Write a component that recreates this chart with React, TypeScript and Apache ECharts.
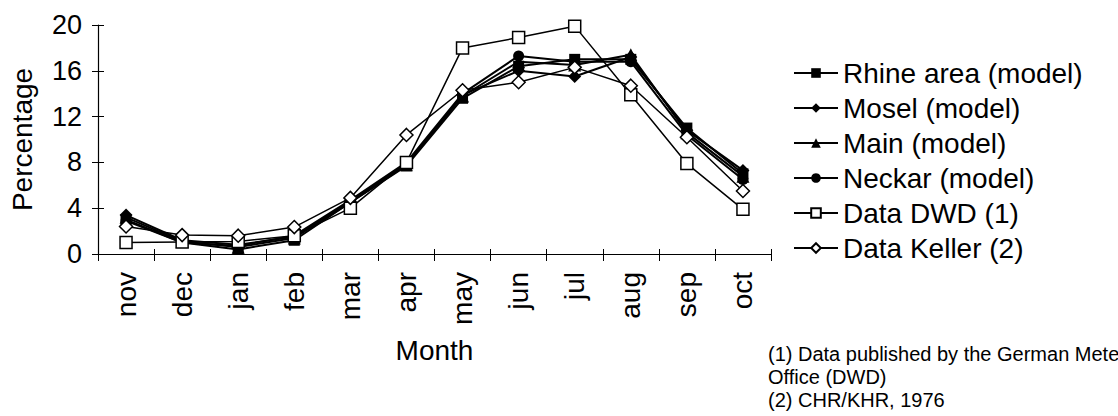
import React, { useEffect, useRef } from "react";
import * as echarts from "echarts";

const months = ["nov", "dec", "jan", "feb", "mar", "apr", "may", "jun", "jul", "aug", "sep", "oct"];
const yTicks = [0, 4, 8, 12, 16, 20];

const rhine = [3.0, 1.0, 0.4, 1.2, 4.5, 7.7, 13.6, 16.4, 17.0, 17.0, 11.0, 7.0];
const mosel = [3.4, 1.2, 0.8, 1.5, 4.6, 7.9, 13.9, 16.0, 15.5, 17.2, 10.8, 7.3];
const mainR = [3.2, 1.1, 0.6, 1.4, 4.5, 7.8, 13.8, 16.8, 16.5, 17.4, 10.6, 6.8];
const neckar = [2.9, 1.0, 0.7, 1.6, 4.7, 8.0, 14.0, 17.3, 16.8, 16.8, 10.4, 6.5];
const dwd = [1.0, 1.05, 1.1, 1.6, 4.0, 8.0, 18.0, 18.9, 19.9, 13.9, 7.9, 3.9];
const keller = [2.4, 1.65, 1.6, 2.35, 4.9, 10.4, 14.3, 15.0, 16.3, 14.7, 10.2, 5.5];

const seriesNames = [
  "Rhine area (model)",
  "Mosel (model)",
  "Main (model)",
  "Neckar (model)",
  "Data DWD (1)",
  "Data Keller (2)",
];
const footnote = ["(1) Data published by the German Meteorological", "Office (DWD)", "(2) CHR/KHR, 1976"];

const FONT = "'Liberation Sans', Arial, Helvetica, sans-serif";

export default function App() {
  const ref = useRef<HTMLDivElement>(null);
  useEffect(() => {
    if (!ref.current) return;
    const chart = echarts.init(ref.current, null, { renderer: "svg" });
    const mk = (name: string, data: number[], symbol: string, size: number, filled: boolean, lw: number) => ({
      name,
      type: "line",
      data,
      symbol,
      symbolSize: size,
      xAxisIndex: 0,
      yAxisIndex: 0,
      lineStyle: { color: "#000", width: lw },
      itemStyle: filled
        ? { color: "#000", borderColor: "#000", borderWidth: 0 }
        : { color: "#fff", borderColor: "#000", borderWidth: 1.5 },
      emphasis: { disabled: true },
    });
    const yBase = {
      type: "value",
      min: 0,
      max: 20,
      interval: 4,
      splitLine: { show: false },
    };
    const xBase = {
      type: "category",
      data: months,
      boundaryGap: true,
      splitLine: { show: false },
    };
    chart.setOption({
      animation: false,
      backgroundColor: "#fff",
      textStyle: { fontFamily: FONT, color: "#000" },
      grid: { left: 97, top: 25, width: 674, height: 229, containLabel: false },
      xAxis: [
        {
          ...xBase,
          axisLine: { lineStyle: { color: "#000", width: 1.2 } },
          axisTick: { show: true, length: 7, lineStyle: { color: "#000" } },
          axisLabel: { rotate: 90, fontSize: 28, color: "#000", margin: 18, fontFamily: FONT },
          name: "Month",
          nameLocation: "middle",
          nameGap: 82,
          nameTextStyle: { fontSize: 28, color: "#000", fontFamily: FONT },
        },
        {
          ...xBase,
          position: "bottom",
          axisLine: { show: false },
          axisTick: { show: true, inside: true, length: 5, lineStyle: { color: "#000" } },
          axisLabel: { show: false },
        },
      ],
      yAxis: [
        {
          ...yBase,
          axisLine: { show: true, lineStyle: { color: "#000", width: 1.2 } },
          axisTick: { show: true, length: 6, lineStyle: { color: "#000" } },
          axisLabel: {
            fontSize: 27,
            color: "#000",
            margin: 16,
            fontFamily: FONT,
            formatter: (v: number) => (yTicks.includes(v) ? String(v) : ""),
          },
          name: "Percentage",
          nameLocation: "middle",
          nameRotate: 90,
          nameGap: 62,
          nameTextStyle: { fontSize: 28, color: "#000", fontFamily: FONT },
        },
        {
          ...yBase,
          position: "left",
          axisLine: { show: false },
          axisTick: { show: true, inside: true, length: 6, lineStyle: { color: "#000" } },
          axisLabel: { show: false },
        },
      ],
      legend: {
        orient: "vertical",
        left: 793,
        top: 59,
        itemWidth: 44,
        itemHeight: 12,
        itemGap: 7,
        padding: 0,
        textStyle: { fontSize: 28, lineHeight: 28, color: "#000", fontFamily: FONT },
        data: seriesNames,
      },
      graphic: footnote.map((line, i) => ({
        type: "text",
        left: 768,
        top: 344 + i * 23,
        style: {
          text: line,
          font: "20px " + FONT,
          lineHeight: 20,
          fill: "#000",
        },
      })),
      series: [
        mk(seriesNames[0], rhine, "rect", 11, true, 2),
        mk(seriesNames[1], mosel, "diamond", 13, true, 2),
        mk(seriesNames[2], mainR, "triangle", 13, true, 2),
        mk(seriesNames[3], neckar, "circle", 11, true, 2),
        mk(seriesNames[4], dwd, "rect", 12, false, 1.5),
        mk(seriesNames[5], keller, "diamond", 13, false, 1.5),
      ],
    });
    return () => chart.dispose();
  }, []);
  return (
    <div
      ref={ref}
      style={{ position: "fixed", left: 0, top: 0, width: 1118, height: 416, background: "#fff" }}
    />
  );
}
